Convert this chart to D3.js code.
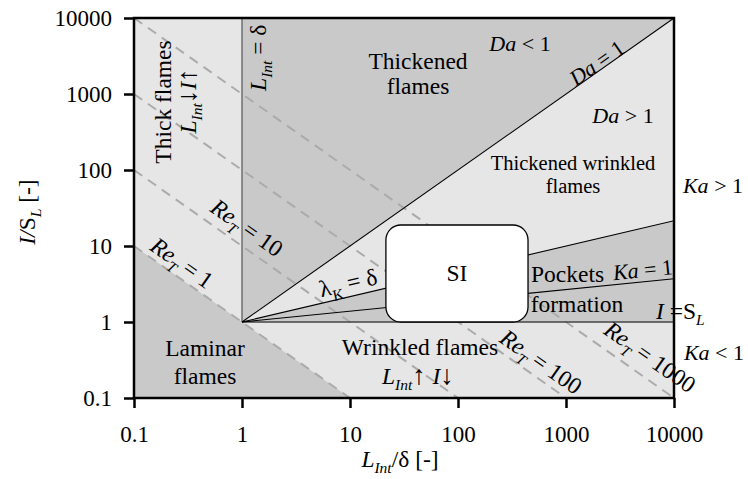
<!DOCTYPE html>
<html>
<head>
<meta charset="utf-8">
<script src="https://cdn.jsdelivr.net/npm/d3@7"></script>
<style>
  html, body { margin: 0; padding: 0; background: #fff; }
  svg { display: block; }
  text { font-family: "Liberation Serif", "Times New Roman", serif; fill: #000; }
</style>
</head>
<body>
<svg id="chart" width="748" height="479"></svg>
<script>
// Axis ticks (both axes are logarithmic, 0.1 … 10000)
const X_TICKS = [0.1, 1, 10, 100, 1000, 10000];
const Y_TICKS = [0.1, 1, 10, 100, 1000, 10000];
const TICK_LABELS = ["0.1", "1", "10", "100", "1000", "10000"];

// Turbulent Reynolds number iso-lines (dashed)
const RE_T_LEVELS = [1, 10, 100, 1000];

// Regime boundaries, [L_Int/δ, I/S_L]
const L_INT_EQ_DELTA = [[1, 1], [1, 10000]];
const DA_ONE = [[1, 1], [10000, 10000]];
const LAMBDA_K_EQ_DELTA = [[1, 1], [10000, 21.5]];
const KA_ONE = [[1, 1], [10000, 3.7]];
const I_EQ_SL = [[1, 1], [10000, 1]];

// Shaded regime areas
const LAMINAR_AREA = [[0.1, 0.1], [0.1, 10], [10, 0.1]];
const THICKENED_AREA = [[1, 1], [1, 10000], [10000, 10000]];
const POCKETS_AREA = [[1, 1], [10000, 21.5], [10000, 1]];

// Operating window of the SI engine
const SI_X = [21.5, 445];
const SI_Y = [1, 18.9];

const LIGHT = "#e6e6e6";
const DARK = "#c9c9c9";
const FS = 23.5;

const svg = d3.select("#chart");
const x = d3.scaleLog().domain([0.1, 10000]).range([134, 674]);
const y = d3.scaleLog().domain([0.1, 10000]).range([398, 18]);
const line = d3.line().x(d => x(d[0])).y(d => y(d[1]));

svg.append("defs").append("clipPath").attr("id", "plot-clip")
  .append("rect")
  .attr("x", x(0.1)).attr("y", y(10000))
  .attr("width", x(10000) - x(0.1)).attr("height", y(0.1) - y(10000));

const plot = svg.append("g").attr("clip-path", "url(#plot-clip)");

// background
plot.append("rect")
  .attr("x", x(0.1)).attr("y", y(10000))
  .attr("width", x(10000) - x(0.1)).attr("height", y(0.1) - y(10000))
  .attr("fill", LIGHT);

[LAMINAR_AREA, THICKENED_AREA, POCKETS_AREA].forEach(area => {
  plot.append("path").attr("d", line(area) + "Z").attr("fill", DARK);
});

// Re_T = const : I/S_L = Re_T / (L_Int/δ)
RE_T_LEVELS.forEach(re => {
  const pts = [[0.1, re / 0.1], [re / 0.1, 0.1]];
  plot.append("path").attr("d", line(pts))
    .attr("fill", "none").attr("stroke", "#ababab")
    .attr("stroke-width", 2).attr("stroke-dasharray", "10,7");
});

// solid boundaries
plot.append("path").attr("d", line(L_INT_EQ_DELTA)).attr("stroke", "#555").attr("stroke-width", 1.2).attr("fill", "none");
plot.append("path").attr("d", line(I_EQ_SL)).attr("stroke", "#444").attr("stroke-width", 1.3).attr("fill", "none");
[DA_ONE, LAMBDA_K_EQ_DELTA, KA_ONE].forEach(seg => {
  plot.append("path").attr("d", line(seg)).attr("stroke", "#000").attr("stroke-width", 1.1).attr("fill", "none");
});

// SI box
svg.append("rect")
  .attr("x", x(SI_X[0])).attr("y", y(SI_Y[1]))
  .attr("width", x(SI_X[1]) - x(SI_X[0])).attr("height", y(SI_Y[0]) - y(SI_Y[1]))
  .attr("rx", 15).attr("ry", 15)
  .attr("fill", "#fff").attr("stroke", "#000").attr("stroke-width", 1.3);

// axes
const xAxis = d3.axisBottom(x).tickValues(X_TICKS).tickSize(10).tickPadding(18)
  .tickFormat((d, i) => TICK_LABELS[i]);
const yAxis = d3.axisLeft(y).tickValues(Y_TICKS).tickSize(10).tickPadding(12)
  .tickFormat((d, i) => TICK_LABELS[i]);

const gx = svg.append("g").attr("transform", `translate(0,${y(0.1)})`).call(xAxis);
const gy = svg.append("g").attr("transform", `translate(${x(0.1)},0)`).call(yAxis);
[gx, gy].forEach(g => {
  g.attr("font-family", null).attr("font-size", null);
  g.select(".domain").remove();
  g.selectAll(".tick line").attr("stroke", "#000").attr("stroke-width", 2.5);
  g.selectAll(".tick text").attr("font-size", 23).attr("fill", "#000");
});

// frame
svg.append("rect")
  .attr("x", x(0.1)).attr("y", y(10000))
  .attr("width", x(10000) - x(0.1)).attr("height", y(0.1) - y(10000))
  .attr("fill", "none").attr("stroke", "#000").attr("stroke-width", 2.5);

// rich text helper: segments {t, i (italic), sub, big}
function rich(segs, px, py, opts = {}) {
  const size = opts.size || FS;
  const g = svg.append("g")
    .attr("transform", `translate(${px},${py}) rotate(${opts.rotate || 0})`);
  const t = g.append("text")
    .attr("text-anchor", opts.anchor || "middle")
    .attr("y", size * 0.33)
    .attr("font-size", size);
  let shift = 0;
  segs.forEach(s => {
    const ts = t.append("tspan").text(s.t);
    if (s.i) ts.attr("font-style", "italic");
    const target = s.sub ? size * 0.28 : 0;
    if (target !== shift) ts.attr("dy", target - shift);
    shift = target;
    if (s.sub) ts.attr("font-size", size * 0.66);
    if (s.big) ts.attr("font-size", size * 1.15);
  });
  return g;
}
const P = s => [{ t: s }];
const angle = seg => Math.atan2(y(seg[1][1]) - y(seg[0][1]), x(seg[1][0]) - x(seg[0][0])) * 180 / Math.PI;
const reAngle = angle([[0.1, 10], [10, 0.1]]);
const reT = v => [{ t: "Re", i: true }, { t: "T", i: true, sub: true }, { t: " = " + v }];
const lint = [{ t: "L", i: true }, { t: "Int", i: true, sub: true }];
const SMALL = 20.5, MID = 22;

// region labels
rich(P("Thick flames"), x(0.186), y(785), { rotate: -90 });
rich([...lint, { t: "↓", big: true }, { t: "I", i: true }, { t: "↑", big: true }], x(0.316), y(809), { rotate: -90 });
rich([...lint, { t: " = δ" }], x(1.4), y(3000), { rotate: -90 });
rich(P("Thickened"), x(42.6), y(2718));
rich(P("flames"), x(42.6), y(1274));
rich([{ t: "Da", i: true }, { t: " < 1" }], x(375), y(4550), { size: MID });
rich([{ t: "Da", i: true }, { t: " = 1" }], x(1936), y(2558), { rotate: angle(DA_ONE), size: MID });
rich([{ t: "Da", i: true }, { t: " > 1" }], x(3373), y(514), { size: MID });
rich(P("Thickened wrinkled"), x(1161), y(124), { size: SMALL });
rich(P("flames"), x(1161), y(61.5), { size: SMALL });
rich([{ t: "Ka", i: true }, { t: " > 1" }], x(22960), y(61.5), { size: MID });
rich(reT(10), x(1.11), y(17.3), { rotate: reAngle });
rich(reT(1), x(0.278), y(5.97), { rotate: reAngle });
rich([{ t: "λ" }, { t: "K", sub: true }, { t: " = δ" }], x(9.6), y(3.26), { rotate: angle(LAMBDA_K_EQ_DELTA) });
rich(P("SI"), x(Math.sqrt(SI_X[0] * SI_X[1])), y(Math.sqrt(SI_Y[0] * SI_Y[1])));
rich(P("Pockets"), x(474), y(4.28), { anchor: "start" });
rich([{ t: "Ka", i: true }, { t: " = 1" }], x(5150), y(4.83), { rotate: angle(KA_ONE), size: MID });
rich(P("formation"), x(1265), y(1.73));
rich([{ t: "I", i: true }, { t: " =" }, { t: "S" }, { t: "L", i: true, sub: true }], x(6810), y(1.40), { anchor: "start" });
rich([{ t: "Ka", i: true }, { t: " < 1" }], x(23440), y(0.391), { size: MID });
rich(reT(1000), x(5995), y(0.346), { rotate: reAngle });
rich(reT(100), x(587), y(0.298), { rotate: reAngle });
rich(P("Wrinkled flames"), x(44.5), y(0.469));
rich([...lint, { t: "↑ ", big: true }, { t: "I", i: true }, { t: "↓", big: true }], x(42.5), y(0.195));
rich(P("Laminar"), x(0.454), y(0.455));
rich(P("flames"), x(0.454), y(0.195));

// axis titles
rich([...lint, { t: "/δ [-]" }], 400, 459);
rich([{ t: "I/", i: true }, { t: "S" }, { t: "L", i: true, sub: true }, { t: " [-]" }], 27, 212, { rotate: -90 });
</script>
</body>
</html>
